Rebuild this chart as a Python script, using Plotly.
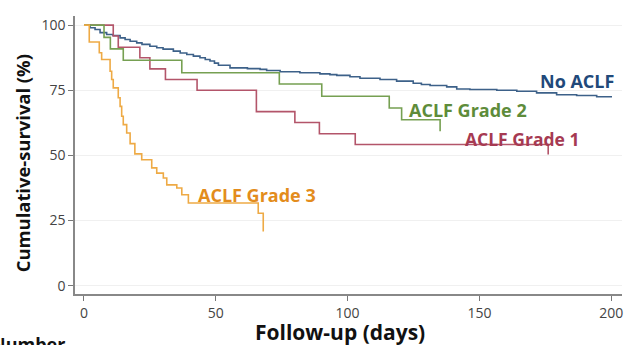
import plotly.graph_objects as go

# ---- data ----
no_aclf_days = [0, 2.3, 4.2, 6.1, 8.6, 11.0, 13.7, 15.6, 17.5, 20.0, 22.0, 25.0, 27.6, 30.0,
                33.9, 36.5, 39.0, 41.5, 44.0, 46.0, 47.8, 49.5, 51.0, 55.4, 62.0, 66.8, 69.3,
                74.4, 81.9, 89.5, 93.3, 95.9, 100.9, 104.7, 112.3, 118.6, 124.9, 128.0, 131.3,
                137.6, 141.4, 146.4, 156.6, 164.2, 171.7, 179.3, 186.9, 194.5, 200.0]
no_aclf_surv = [100, 99.0, 98.3, 97.1, 96.4, 96.0, 95.1, 94.5, 93.8, 93.2, 92.6, 91.9, 91.3, 90.8,
                90.0, 89.3, 88.7, 88.1, 87.5, 86.8, 86.2, 85.4, 84.6, 83.6, 83.3, 83.0, 82.6,
                82.1, 81.7, 81.3, 81.0, 80.7, 80.2, 79.6, 79.1, 78.5, 77.7, 77.2, 76.8,
                76.3, 75.5, 75.3, 75.0, 74.6, 74.0, 73.3, 73.0, 72.5, 72.2]

grade1_days = [0, 11.1, 13.0, 21.2, 25.0, 30.9, 42.9, 65.4, 80.0, 89.3, 102.9, 176.1, 176.1]
grade1_surv = [100, 95.8, 91.5, 87.5, 83.2, 79.1, 75.0, 66.8, 62.6, 58.3, 54.2, 54.2, 50.3]

grade2_days = [0, 7.6, 10.0, 14.9, 37.1, 74.1, 90.2, 115.8, 120.5, 135.1, 135.1]
grade2_surv = [100, 95.3, 90.9, 86.5, 81.7, 77.4, 72.7, 68.2, 63.7, 63.7, 59.3]

grade3_days = [0, 2.0, 5.8, 6.7, 9.9, 10.5, 11.1, 13.0, 13.7, 14.3, 14.9, 16.2, 17.5, 19.3,
               21.9, 25.7, 27.6, 30.1, 31.4, 35.2, 37.1, 39.6, 66.1, 68.0, 68.0]
grade3_surv = [100, 93.5, 89.4, 86.8, 82.3, 79.1, 75.9, 72.1, 68.8, 65.0, 61.8, 58.6, 54.5, 50.6,
               48.3, 45.2, 43.2, 41.3, 38.7, 37.5, 34.9, 31.7, 27.8, 27.8, 20.8]

x_ticks = [0, 50, 100, 150, 200]
y_ticks = [0, 25, 50, 75, 100]

group_labels = ["No ACLF", "ACLF Grade 1", "ACLF Grade 2", "ACLF Grade 3"]

# ---- styling ----
line_colors = ["#3d6189", "#b3556a", "#76a052", "#eeaa45"]
text_colors = ["#21497a", "#a63a52", "#5e8c3a", "#e38c1c"]
FONT = "Open Sans"

series = [(no_aclf_days, no_aclf_surv), (grade1_days, grade1_surv),
          (grade2_days, grade2_surv), (grade3_days, grade3_surv)]

fig = go.Figure()
for (d, s), name, col in zip(series, group_labels, line_colors):
    fig.add_trace(go.Scatter(x=d, y=s, mode="lines", name=name,
                             line=dict(color=col, width=1.6, shape="hv"),
                             showlegend=False, hoverinfo="skip"))

# curve labels
label_pos = [
    (201.8, 78.5, "right"),
    (143.6, 56.4, "left"),
    (122.7, 67.6, "left"),
    (42.6, 34.9, "left"),
]
label_sizes = [18, 17.5, 18, 18]
for (x, y, anc), name, col, fs in zip(label_pos, group_labels, text_colors, label_sizes):
    fig.add_annotation(x=x, y=y, xref="x", yref="y", text=f"<b>{name}</b>",
                       showarrow=False, xanchor=anc, yanchor="middle",
                       font=dict(family=FONT, size=fs, color=col))

# axis titles
fig.add_annotation(x=-0.097, y=0.47, xref="paper", yref="paper",
                   text="<b>Cumulative-survival (%)</b>", textangle=-90,
                   showarrow=False, xanchor="center", yanchor="middle",
                   font=dict(family=FONT, size=18.4, color="#111"))
fig.add_annotation(x=0.485, y=-0.135, xref="paper", yref="paper",
                   text="<b>Follow-up (days)</b>",
                   showarrow=False, xanchor="center", yanchor="middle",
                   font=dict(family=FONT, size=21, color="#111"), borderpad=0)
fig.add_annotation(x=-0.158, y=-0.128, xref="paper", yref="paper",
                   text="<b>Number</b>", showarrow=False,
                   xanchor="left", yanchor="top",
                   font=dict(family=FONT, size=18, color="#111"))

fig.update_layout(
    width=635, height=345,
    margin=dict(l=75, r=13, t=16, b=51),
    paper_bgcolor="white", plot_bgcolor="white",
    font=dict(family=FONT, size=14, color="#444"),
)
fig.update_xaxes(range=[-3.41, 204.1], tickvals=x_ticks, ticks="outside", ticklen=5,
                 tickcolor="#777", showline=True, linecolor="#888", linewidth=1.5,
                 showgrid=False, zeroline=False, tickfont=dict(size=14, color="#444"))
fig.update_yaxes(range=[-3.2, 103.5], tickvals=y_ticks, ticks="outside", ticklen=5,
                 tickcolor="#777", showline=True, linecolor="#888", linewidth=1.5,
                 showgrid=True, gridcolor="#f0f0f0", gridwidth=1, zeroline=False,
                 tickfont=dict(size=14, color="#444"))

fig.write_html("out.html", config={"displayModeBar": False},
               post_script="document.body.style.margin='0';document.body.style.overflow='hidden';")
